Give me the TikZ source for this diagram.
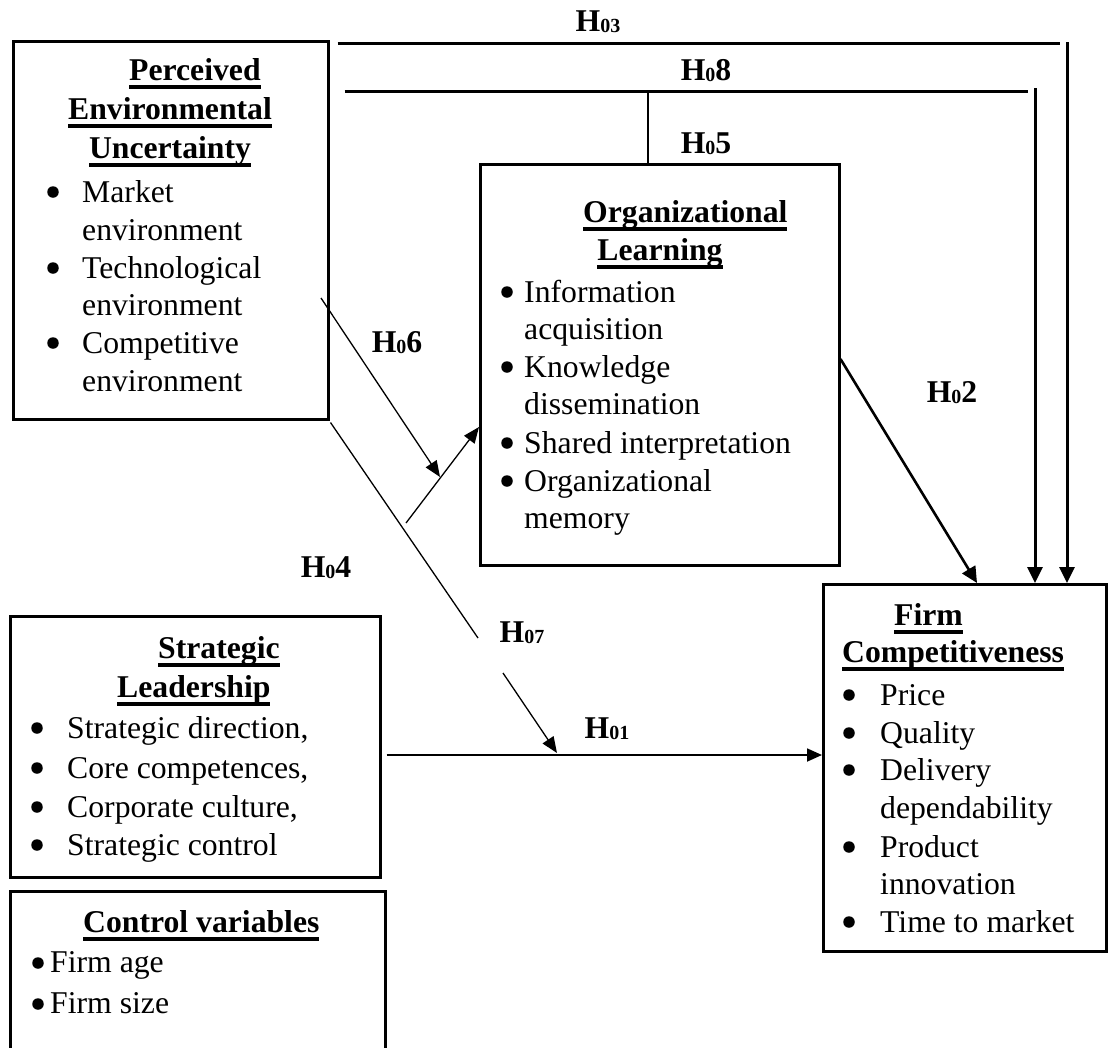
\documentclass[tikz,border=0pt]{standalone}
\usepackage{fontspec}
\setmainfont{Liberation Serif}
\usetikzlibrary{arrows.meta}

\newcommand\bodyfont{\fontsize{31.7}{38}\selectfont}
% bold heading with a heavy underline
\newcommand\headline[1]{\setbox0\hbox{\bfseries #1}\rlap{\vrule height -4.8pt depth 8.6pt width \wd0}\box0}
% small lowered figures of a hypothesis label
\newcommand\hsub[1]{\raisebox{-1.5pt}{\fontsize{20}{20}\selectfont\bfseries #1}}

\begin{document}
\begin{tikzpicture}[x=1pt,y=-1pt,
  box/.style={draw, line width=2.5pt, inner sep=0, anchor=north west},
  txt/.style={inner sep=0, anchor=base west, font=\bodyfont},
  ctr/.style={inner sep=0, anchor=base, font=\bodyfont},
  dot/.style={circle, fill, inner sep=0, minimum size=11.5pt},
  lbl/.style={inner sep=0, anchor=base, font=\bodyfont\bfseries},
  heavy/.style={line width=3pt},
  bold arrow/.style={line width=3pt, -{Triangle[length=16pt,width=15pt]}},
  mid arrow/.style={line width=2.6pt, -{Triangle[length=16pt,width=15pt]}},
  link arrow/.style={line width=1.8pt, -{Triangle[length=15pt,width=13pt]}},
  thin line/.style={line width=1.3pt},
  thin arrow/.style={line width=1.3pt, -{Triangle[length=16pt,width=13pt]}}]

\useasboundingbox (0,0) rectangle (1108,1047);
\clip (0,0) rectangle (1108,1047);

% ---- boxes
\node[box, minimum width=315, minimum height=378] (peu) at (12,40) {};
\node[box, minimum width=359, minimum height=401] (ol) at (479,163) {};
\node[box, minimum width=283, minimum height=367] (fc) at (822,583) {};
\node[box, minimum width=370, minimum height=261] (sl) at (9,615) {};
\node[box, minimum width=375, minimum height=230] (cv) at (9,890) {};

% ---- Perceived Environmental Uncertainty
\node[txt] (peuA) at (129,80) {\headline{Perceived}};
\node[ctr] (peuB) at (170,119) {\headline{Environmental}};
\node[ctr] (peuC) at (170,158) {\headline{Uncertainty}};
\node[dot] (peuD1) at (53,192) {};
\node[txt] (peuD) at (82,202) {Market};
\node[txt] (peuE) at (82,240) {environment};
\node[dot] (peuF1) at (53,268) {};
\node[txt] (peuF) at (82,278) {Technological};
\node[txt] (peuG) at (82,315) {environment};
\node[dot] (peuH1) at (53,343) {};
\node[txt] (peuH) at (82,353) {Competitive};
\node[txt] (peuI) at (82,391) {environment};

% ---- Organizational Learning
\node[txt] (olA) at (583,222) {\headline{Organizational}};
\node[ctr] (olB) at (660,260) {\headline{Learning}};
\node[dot] (olC1) at (507,292) {};
\node[txt] (olC) at (524,302) {Information};
\node[txt] (olD) at (524,339) {acquisition};
\node[dot] (olE1) at (507,367) {};
\node[txt] (olE) at (524,377) {Knowledge};
\node[txt] (olF) at (524,414) {dissemination};
\node[dot] (olG1) at (507,443) {};
\node[txt] (olG) at (524,453) {Shared interpretation};
\node[dot] (olH1) at (507,481) {};
\node[txt] (olH) at (524,491) {Organizational};
\node[txt] (olI) at (524,528) {memory};

% ---- Firm Competitiveness
\node[txt] (fcA) at (894,625) {\headline{Firm}};
\node[txt] (fcB) at (842,662) {\headline{Competitiveness}};
\node[dot] (fcC1) at (849,695) {};
\node[txt] (fcC) at (880,705) {Price};
\node[dot] (fcD1) at (849,733) {};
\node[txt] (fcD) at (880,743) {Quality};
\node[dot] (fcE1) at (849,770) {};
\node[txt] (fcE) at (880,780) {Delivery};
\node[txt] (fcF) at (880,818) {dependability};
\node[dot] (fcG1) at (849,847) {};
\node[txt] (fcG) at (880,857) {Product};
\node[txt] (fcH) at (880,894) {innovation};
\node[dot] (fcI1) at (849,922) {};
\node[txt] (fcI) at (880,932) {Time to market};

% ---- Strategic Leadership
\node[txt] (slA) at (158,658) {\headline{Strategic}};
\node[txt] (slB) at (117,697) {\headline{Leadership}};
\node[dot] (slC1) at (37,728) {};
\node[txt] (slC) at (67,738) {Strategic direction,};
\node[dot] (slD1) at (37,768) {};
\node[txt] (slD) at (67,778) {Core competences,};
\node[dot] (slE1) at (37,807) {};
\node[txt] (slE) at (67,817) {Corporate culture,};
\node[dot] (slF1) at (37,845) {};
\node[txt] (slF) at (67,855) {Strategic control};

% ---- Control variables
\node[txt] (cvA) at (83,932) {\headline{Control variables}};
\node[dot] (cvB1) at (38,963) {};
\node[txt] (cvB) at (50,972) {Firm age};
\node[dot] (cvC1) at (38,1004) {};
\node[txt] (cvC) at (50,1013) {Firm size};

% ---- free ends of connectors
\coordinate (h3e) at (1060,43);
\coordinate (h3v) at (1067,42);
\coordinate (h8e) at (1028,91);
\coordinate (h8v) at (1035,88);
\coordinate (h5t) at (648,91);
\coordinate (h6s) at (321,298);
\coordinate (h6t) at (440,477);
\coordinate (h4s) at (406,523);
\coordinate (h7m) at (478,638);
\coordinate (h7s) at (503,673);
\coordinate (h7t) at (557,753);

% ---- connectors
\draw[heavy] ([xshift=8pt,yshift=-3pt]peu.north east) -- (h3e);
\draw[bold arrow] (h3v) -- ([xshift=245pt]fc.north west);
\draw[heavy] ([xshift=15pt,yshift=-51pt]peu.north east) -- (h8e);
\draw[bold arrow] (h8v) -- ([xshift=213pt]fc.north west);
\draw[line width=2.4pt] ([xshift=169pt]ol.north west) -- (h5t);
\draw[mid arrow] ([yshift=-196pt]ol.north east) -- ([xshift=155pt]fc.north west);
\draw[thin arrow] (h6s) -- (h6t);
\draw[thin arrow] (h4s) -- ([yshift=-264pt]ol.north west);
\draw[thin line] ([xshift=1pt,yshift=-2pt]peu.south east) -- (h7m);
\draw[thin arrow] (h7s) -- (h7t);
\draw[link arrow] ([xshift=5pt,yshift=-140pt]sl.north east) -- ([yshift=-172pt]fc.north west);

% ---- hypothesis labels
\node[lbl] (l3) at (598,31) {H\hsub{03}};
\node[lbl] (l8) at (706,80) {H\hsub{0}8};
\node[lbl] (l5) at (706,153) {H\hsub{0}5};
\node[lbl] (l6) at (397,352) {H\hsub{0}6};
\node[lbl] (l2) at (952,402) {H\hsub{0}2};
\node[lbl] (l4) at (326,577) {H\hsub{0}4};
\node[lbl] (l7) at (522,642) {H\hsub{07}};
\node[lbl] (l1) at (607,738) {H\hsub{01}};
\end{tikzpicture}
\end{document}
